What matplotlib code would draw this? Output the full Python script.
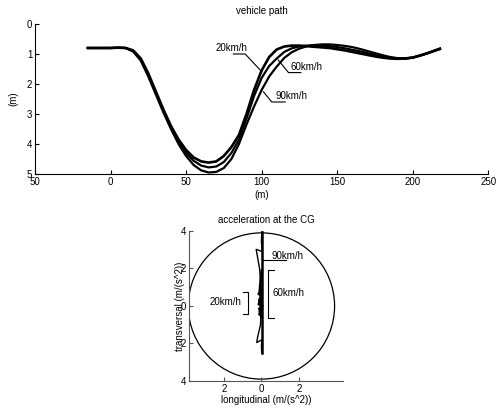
import matplotlib.pyplot as plt
from matplotlib.patches import Circle

plt.rcParams['font.family'] = ['Liberation Sans', 'DejaVu Sans']
plt.rcParams['font.size'] = 7

# === vehicle path data (m) ===
path_x = [-15, -10, -5, 0, 5, 10, 15, 20, 25, 30, 35, 40, 45, 50, 55, 60, 65, 70, 75, 80,
          85, 90, 95, 100, 105, 110, 115, 120, 125, 130, 135, 140, 145, 150, 155, 160, 165,
          170, 175, 180, 185, 190, 195, 200, 205, 210, 215, 218]
path_20 = [0.8, 0.8, 0.8, 0.8, 0.79, 0.8, 0.88, 1.15, 1.65, 2.25, 2.85, 3.4, 3.85, 4.2, 4.45,
           4.58, 4.62, 4.58, 4.4, 4.1, 3.7, 3.0, 2.2, 1.55, 1.1, 0.85, 0.75, 0.72, 0.72, 0.74,
           0.76, 0.78, 0.8, 0.84, 0.88, 0.93, 0.98, 1.03, 1.08, 1.12, 1.15, 1.16, 1.15, 1.12,
           1.05, 0.97, 0.88, 0.82]
path_60 = [0.8, 0.8, 0.8, 0.8, 0.79, 0.8, 0.9, 1.18, 1.7, 2.3, 2.9, 3.45, 3.92, 4.3, 4.56,
           4.72, 4.78, 4.75, 4.6, 4.3, 3.85, 3.15, 2.4, 1.8, 1.4, 1.15, 0.93, 0.81, 0.75, 0.72,
           0.71, 0.72, 0.74, 0.77, 0.81, 0.86, 0.91, 0.97, 1.03, 1.08, 1.12, 1.15, 1.15, 1.12,
           1.05, 0.97, 0.88, 0.83]
path_90 = [0.8, 0.8, 0.8, 0.8, 0.79, 0.8, 0.92, 1.22, 1.75, 2.35, 2.95, 3.5, 4.0, 4.4, 4.7,
           4.88, 4.95, 4.93, 4.8, 4.5, 4.0, 3.35, 2.75, 2.2, 1.75, 1.42, 1.13, 0.94, 0.82, 0.74,
           0.7, 0.68, 0.68, 0.7, 0.73, 0.77, 0.83, 0.9, 0.97, 1.04, 1.1, 1.14, 1.15, 1.12,
           1.05, 0.97, 0.88, 0.84]
path_xticks = [-50, 0, 50, 100, 150, 200, 250]
path_xticklabels = ['50', '0', '50', '100', '150', '200', '250']
path_yticks = [0, 1, 2, 3, 4, 5]

# === acceleration at the CG (m/s^2) ===
acc90_long = [0.02, 0.0, 0.05, -0.28, -0.1, -0.02, 0.0, -0.05, -0.2, -0.25, 0.02, 0.0, 0.02]
acc90_trans = [3.95, 3.4, 2.9, 3.02, 2.0, 1.0, 0.0, -1.0, -1.65, -1.95, -1.8, -2.2, -2.5]
acc60_long = [0.02, -0.05, -0.1, 0.0, -0.12, 0.05, -0.1, 0.0]
acc60_trans = [1.9, 1.3, 0.7, 0.4, 0.2, 0.0, -0.3, -0.6]
acc20_long = [0.0, -0.15, 0.0, -0.12, 0.0, -0.15, 0.02, -0.12, 0.0, -0.1]
acc20_trans = [0.76, 0.65, 0.55, 0.3, 0.2, 0.1, 0.0, -0.15, -0.3, -0.44]
friction_radius = 3.9
acc_xticks = [-2, 0, 2]
acc_xticklabels = ['2', '0', '2']
acc_yticks = [-4, -2, 0, 2, 4]
acc_yticklabels = ['4', '2', '0', '2', '4']


def matlab_style(ax, color):
    ax.spines['top'].set_visible(False)
    ax.spines['right'].set_visible(False)
    ax.spines['left'].set_color(color)
    ax.spines['bottom'].set_color(color)
    ax.tick_params(direction='in', length=3, width=0.8, colors=color,
                   labelcolor='black', labelsize=7, pad=2)


fig = plt.figure(figsize=(4.97, 4.13), dpi=100)

# --- top: vehicle path ---
ax1 = fig.add_axes([0.0704, 0.5787, 0.912, 0.3632])
ax1.plot(path_x, path_20, color='black', lw=1.9)
ax1.plot(path_x, path_60, color='black', lw=1.6)
ax1.plot(path_x, path_90, color='black', lw=1.6)
ax1.set_xlim(-50, 250)
ax1.set_ylim(5, 0)
ax1.set_xticks(path_xticks)
ax1.set_xticklabels(path_xticklabels)
ax1.set_yticks(path_yticks)
matlab_style(ax1, 'black')
ax1.set_title('vehicle path', fontsize=7, pad=7)
ax1.set_xlabel('(m)', fontsize=7, labelpad=2)
ax1.set_ylabel('(m)', fontsize=7, labelpad=6)

# labels with leader lines
ax1.plot([81.3, 89.1, 100.1], [1.0, 1.0, 1.59], color='black', lw=0.8)
ax1.text(69.2, 0.8, '20km/h', fontsize=7, va='center', ha='left')
ax1.plot([111.0, 117.8, 126.0], [1.2, 1.62, 1.62], color='black', lw=0.8)
ax1.text(119.3, 1.43, '60km/h', fontsize=7, va='center', ha='left')
ax1.plot([101.2, 106.7, 115.6], [2.26, 2.6, 2.6], color='black', lw=0.8)
ax1.text(109.0, 2.4, '90km/h', fontsize=7, va='center', ha='left')

# --- bottom: acceleration at the CG ---
ax2 = fig.add_axes([0.3803, 0.0775, 0.3099, 0.3632])
ax2.add_patch(Circle((0, 0), friction_radius, fill=False, ec='black', lw=0.9))
ax2.plot(acc90_long, acc90_trans, color='black', lw=1.0)
ax2.plot([0.02, 0.02], [acc90_trans[0], acc90_trans[-1]], color='black', lw=1.8)
ax2.plot(acc60_long, acc60_trans, color='black', lw=1.8)
ax2.plot(acc20_long, acc20_trans, color='black', lw=1.8)
ax2.set_xlim(-3.86, 4.35)
ax2.set_ylim(-4, 4)
ax2.set_xticks(acc_xticks)
ax2.set_xticklabels(acc_xticklabels)
ax2.set_yticks(acc_yticks)
ax2.set_yticklabels(acc_yticklabels)
matlab_style(ax2, '#555555')
ax2.set_title('acceleration at the CG', fontsize=7, pad=6)
ax2.set_xlabel('longitudinal (m/(s^2))', fontsize=7, labelpad=1)
ax2.set_ylabel('transversal (m/(s^2))', fontsize=7, labelpad=-3)

ax2.plot([0.02, 1.3], [2.44, 2.44], color='black', lw=0.8)
ax2.text(0.55, 2.65, '90km/h', fontsize=7, va='center', ha='left')
ax2.plot([0.69, 0.37, 0.37, 0.69], [1.92, 1.92, -0.62, -0.62], color='black', lw=0.8)
ax2.text(0.6, 0.67, '60km/h', fontsize=7, va='center', ha='left')
ax2.plot([-0.99, -0.73, -0.73, -0.99], [0.76, 0.76, -0.44, -0.44], color='black', lw=0.8)
ax2.text(-1.05, 0.21, '20km/h', fontsize=7, va='center', ha='right')

fig.savefig('out.png', dpi=100)
